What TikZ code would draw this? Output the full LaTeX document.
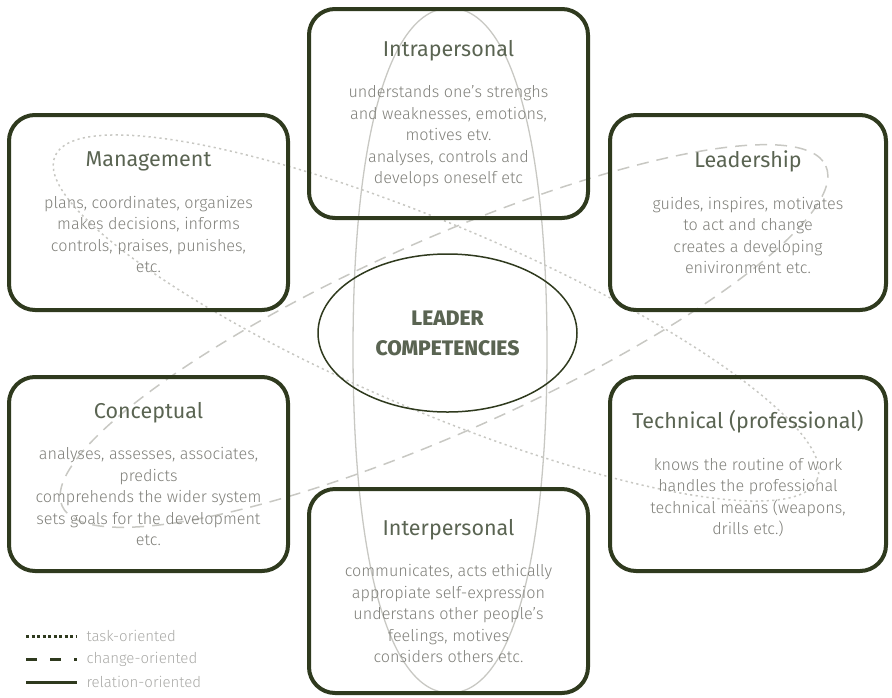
\documentclass[tikz,border=0pt]{standalone}
\usepackage{fontspec}
\setmainfont{Fira Sans}
\newfontfamily\lightfont{Fira Sans Light}
\newfontfamily\corefont{Fira Sans ExtraBold}
\usepackage{xcolor}
\usetikzlibrary{shapes.geometric}
\definecolor{darkolive}{RGB}{47,58,30}
\definecolor{titlegreen}{RGB}{90,100,82}
\definecolor{bodygray}{RGB}{128,128,122}
\definecolor{loopgray}{RGB}{200,200,195}
\definecolor{legendgray}{RGB}{170,170,167}
\newcommand{\comptitle}[1]{{\normalfont\fontsize{21.5}{25}\selectfont\color{titlegreen}#1}\\[20pt]}

\begin{document}
\begin{tikzpicture}[x=1pt,y=-1pt,
    comp/.style={draw=darkolive, line width=4pt, rounded corners=26pt, align=center,
      text=bodygray, font=\lightfont\fontsize{16.2}{21.5}\selectfont, inner sep=0pt},
    taskloop/.style={loopgray, line width=1.5pt, dash pattern=on 2.2pt off 3.3pt},
    changeloop/.style={loopgray, line width=1.5pt, dash pattern=on 12pt off 8pt},
    relationloop/.style={loopgray, line width=1.3pt},
    legendtext/.style={anchor=west, text=legendgray, font=\lightfont\fontsize{15}{17}\selectfont}]
    \useasboundingbox (0,0) rectangle (892,697);
    % the three loops
    \draw[relationloop] (450,8) .. controls (511,8) and (547,138) .. (547,350)
        .. controls (547,562) and (511,693) .. (450,693)
        .. controls (389,693) and (353,562) .. (353,350)
        .. controls (353,138) and (389,8) .. (450,8) -- cycle;
    \draw[taskloop, rotate around={-23:(436,318)}] (436,318) ellipse [x radius=414, y radius=93];
    \draw[changeloop, rotate around={24:(444,336)}] (444,336) ellipse [x radius=418, y radius=96];
    % competence boxes
    \node[comp, minimum width=279pt, minimum height=209pt] (intra) at (448.5,113.5) {\comptitle{Intrapersonal}
        understands one’s strenghs\\ and weaknesses, emotions,\\ motives etv.\\ analyses, controls and\\ develops oneself etc};
    \node[comp, minimum width=279pt, minimum height=195pt] (mgmt) at (148.5,212.5) {\comptitle{Management}
        plans, coordinates, organizes\\ makes decisions, informs\\ controls, praises, punishes,\\ etc.};
    \node[comp, minimum width=276pt, minimum height=195pt] (lead) at (748,212.5) {\comptitle{Leadership}
        guides, inspires, motivates\\ to act and change\\ creates a developing\\ enivironment etc.};
    \node[comp, minimum width=279pt, minimum height=194pt] (concept) at (148.5,474) {\comptitle{Conceptual}
        analyses, assesses, associates,\\ predicts\\ comprehends the wider system\\ sets goals for the development\\ etc.};
    \node[comp, minimum width=276pt, minimum height=194pt] (tech) at (748,474) {\comptitle{Technical (professional)}
        knows the routine of work\\ handles the professional\\ technical means (weapons,\\ drills etc.)};
    \node[comp, minimum width=279pt, minimum height=204pt] (inter) at (448.5,591) {\comptitle{Interpersonal}
        communicates, acts ethically\\ appropiate self-expression\\ understans other people’s\\ feelings, motives\\ considers others etc.};
    % centre
    \node[draw=darkolive, line width=1.5pt, ellipse, minimum width=259pt, minimum height=158pt,
        align=center, text=titlegreen, font=\corefont\fontsize{21}{30}\selectfont] (core) at (447.5,333)
        {LEADER\\COMPETENCIES};
    % legend
    \coordinate (taskkey) at (26,636);
    \coordinate (changekey) at (26,659);
    \coordinate (relationkey) at (26,682);
    \node[legendtext] (tasklabel) at (83,636) {task-oriented};
    \node[legendtext] (changelabel) at (83,659) {change-oriented};
    \node[legendtext] (relationlabel) at (83,682) {relation-oriented};
    \draw[darkolive, line width=3pt, dash pattern=on 3pt off 2.5pt] (taskkey) -- ++(51,0);
    \draw[darkolive, line width=3pt, dash pattern=on 11pt off 13pt] (changekey) -- ++(51,0);
    \draw[darkolive, line width=3pt] (relationkey) -- ++(51,0);
\end{tikzpicture}
\end{document}
